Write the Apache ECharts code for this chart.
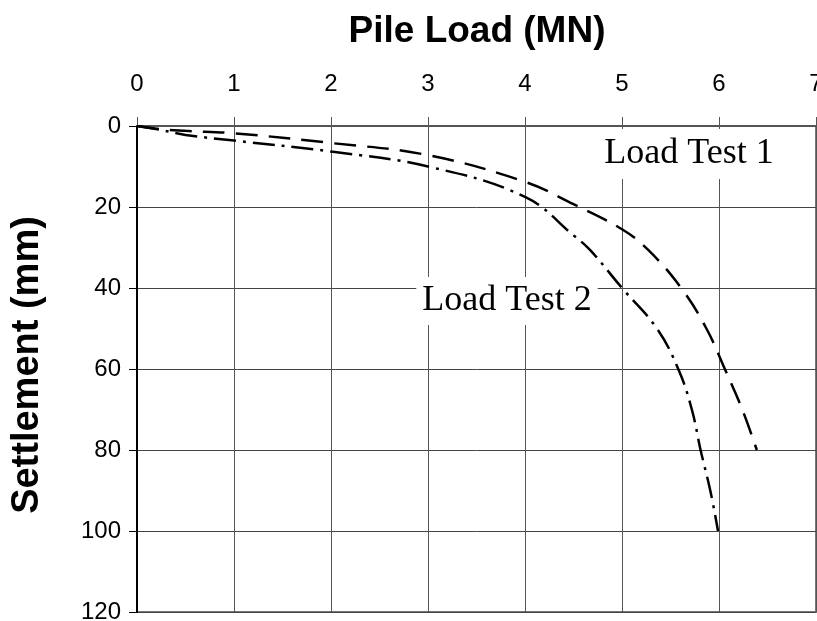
<!DOCTYPE html>
<html>
<head>
<meta charset="utf-8">
<script src="https://cdn.jsdelivr.net/npm/echarts@6/dist/echarts.min.js"></script>
<style>
html,body{margin:0;padding:0;background:#fff;}
#chart{width:817px;height:621px;}
</style>
</head>
<body>
<div id="chart"></div>
<script>
// Load Test 1 (dashed)
const test1Load = [0, 0.25, 0.5, 1, 2, 3, 4, 4.5, 5, 5.27, 5.61, 5.87, 6.06, 6.24, 6.39];
const test1Settlement = [0, 0.8, 1.2, 1.8, 4.2, 7.2, 13.8, 19.3, 25.5, 30.6, 40, 50, 60, 70, 80];
// Load Test 2 (dash-dot)
const test2Load = [0, 0.25, 0.5, 1, 2, 3, 4, 4.5, 4.67, 5, 5.36, 5.58, 5.72, 5.81, 5.91, 5.99];
const test2Settlement = [0, 1.0, 2.2, 3.6, 6.3, 10, 17.5, 27, 30.6, 40, 50, 60, 70, 80, 90, 100];
const xTicks = [0, 1, 2, 3, 4, 5, 6, 7];
const yTicks = [0, 20, 40, 60, 80, 100, 120];
const seriesNames = ['Load Test 1', 'Load Test 2'];
const xTitle = 'Pile Load (MN)';
const yTitle = 'Settlement (mm)';

const zip = (a, b) => a.map((v, i) => [v, b[i]]);

const chart = echarts.init(document.getElementById('chart'), null, {renderer: 'canvas'});
chart.setOption({
  backgroundColor: '#fff',
  animation: false,
  grid: {left: 137, right: 1, top: 126, bottom: 9, containLabel: false, outerBoundsMode: 'none',
         show: true, borderColor: '#777', borderWidth: 2, backgroundColor: 'transparent'},
  xAxis: {
    type: 'value', position: 'top',
    min: xTicks[0], max: xTicks[xTicks.length - 1], interval: 1,
    axisLine: {show: true, onZero: false, lineStyle: {color: '#555', width: 2}},
    axisTick: {show: true, length: 9, lineStyle: {color: '#555', width: 1}},
    axisLabel: {color: '#000', fontFamily: 'Liberation Sans, Arial', fontSize: 24, margin: 30},
    splitLine: {show: true, lineStyle: {color: '#555', width: 1}}
  },
  yAxis: {
    type: 'value', inverse: true,
    min: yTicks[0], max: yTicks[yTicks.length - 1], interval: 20,
    axisLine: {show: true, onZero: false, lineStyle: {color: '#000', width: 2}},
    axisTick: {show: true, length: 8, lineStyle: {color: '#000', width: 1}},
    axisLabel: {color: '#000', fontFamily: 'Liberation Sans, Arial', fontSize: 24, margin: 16},
    splitLine: {show: true, lineStyle: {color: '#444', width: 1}}
  },
  series: [
    {
      name: seriesNames[0], type: 'line', data: zip(test1Load, test1Settlement),
      smooth: 0.4, showSymbol: false, symbol: 'none',
      lineStyle: {color: '#000', width: 2.5, type: [22, 11]}
    },
    {
      name: seriesNames[1], type: 'line', data: zip(test2Load, test2Settlement),
      smooth: 0.4, showSymbol: false, symbol: 'none',
      lineStyle: {color: '#000', width: 2.5, type: [22, 7, 3, 7]}
    }
  ],
  graphic: [
    {type: 'text', x: 477, y: 32, style: {text: xTitle, fill: '#000', font: 'bold 37px "Liberation Sans", Arial', align: 'center', verticalAlign: 'middle'}},
    {type: 'text', x: 28, y: 365, rotation: Math.PI / 2, style: {text: yTitle, fill: '#000', font: 'bold 38px "Liberation Sans", Arial', align: 'center', verticalAlign: 'middle'}},
    {type: 'text', x: 689, y: 154, z: 100, style: {text: seriesNames[0], fill: '#000', font: '36px "Liberation Serif", "Times New Roman"', align: 'center', verticalAlign: 'middle', backgroundColor: '#fff', padding: [4, 12, 10, 12]}},
    {type: 'text', x: 507, y: 301, z: 100, style: {text: seriesNames[1], fill: '#000', font: '36px "Liberation Serif", "Times New Roman"', align: 'center', verticalAlign: 'middle', backgroundColor: '#fff', padding: [4, 6, 8, 6]}}
  ]
});
</script>
</body>
</html>
